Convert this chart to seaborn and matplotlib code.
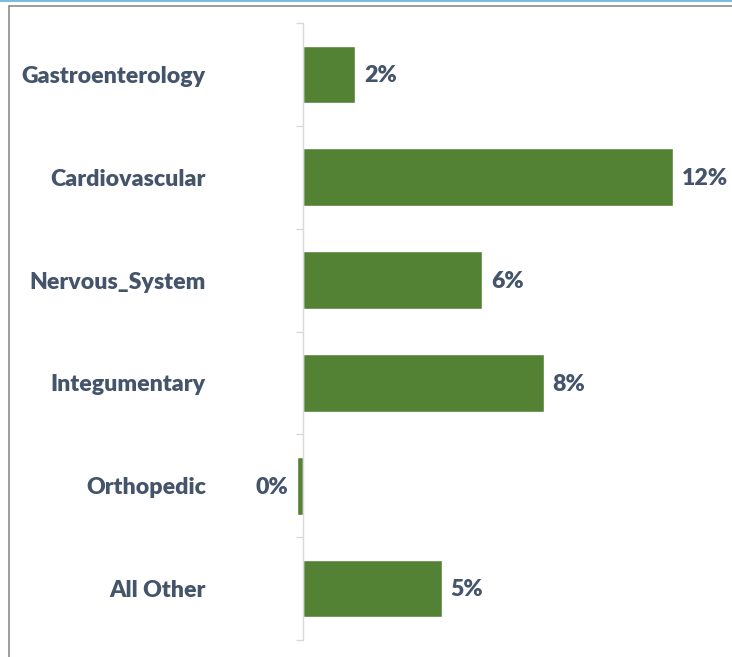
import matplotlib
matplotlib.use("Agg")
import matplotlib.pyplot as plt
import seaborn as sns
import pandas as pd
from matplotlib.lines import Line2D

categories = ["Gastroenterology", "Cardiovascular", "Nervous_System",
              "Integumentary", "Orthopedic", "All Other"]
values = [1.7, 12.0, 5.8, 7.8, -0.2, 4.5]
value_labels = ["2%", "12%", "6%", "8%", "0%", "5%"]

df = pd.DataFrame({"category": categories, "value": values})

sns.set_theme(style="white")
plt.rcParams["font.family"] = ["Lato", "DejaVu Sans"]

W, H = 732, 657
fig = plt.figure(figsize=(W / 100, H / 100), dpi=100)
x_left_px, x_right_px, zero_px = 285, 725, 303
scale = 370 / 12.0
ax = fig.add_axes([x_left_px / W, (H - 640) / H, (x_right_px - x_left_px) / W, 617 / H])

text_color = "#44546A"
bar_color = "#548235"
fs = 16.7
fw = "heavy"

sns.barplot(data=df, x="value", y="category", orient="h", color=bar_color,
            saturation=1, width=0.56, ax=ax)

ax.set_xlim((x_left_px - zero_px) / scale, (x_right_px - zero_px) / scale)
ax.set_ylim(5.5, -0.5)
ax.set_xlabel("")
ax.set_ylabel("")
ax.set_xticks([])

for s in ["top", "right", "bottom"]:
    ax.spines[s].set_visible(False)
ax.spines["left"].set_position(("data", 0))
ax.spines["left"].set_color("#D9D9D9")
ax.spines["left"].set_linewidth(1.0)

ax.set_yticks(range(len(categories)))
ax.set_yticklabels(categories, fontsize=fs, fontweight=fw, color=text_color)
ax.tick_params(axis="y", which="major", length=0, pad=70)
ax.set_yticks([i - 0.5 for i in range(len(categories) + 1)], minor=True)
ax.tick_params(axis="y", which="minor", length=5, color="#D9D9D9", width=1.0, left=True)

for i, (v, lab) in enumerate(zip(values, value_labels)):
    if v >= 0:
        ax.annotate(lab, (v, i), xytext=(6.5, -1), textcoords="offset points",
                    ha="left", va="center", fontsize=fs, fontweight=fw, color=text_color)
    else:
        ax.annotate(lab, (v, i), xytext=(-6.5, -1), textcoords="offset points",
                    ha="right", va="center", fontsize=fs, fontweight=fw, color=text_color)

# frame decoration
fig.add_artist(Line2D([0, 1], [1 - 0.8 / H, 1 - 0.8 / H], transform=fig.transFigure,
                      color="#7FBCDB", linewidth=1.5))
fig.add_artist(Line2D([8.5 / W, 1], [1 - 5.5 / H, 1 - 5.5 / H], transform=fig.transFigure,
                      color="#8C8C8C", linewidth=1.2))
fig.add_artist(Line2D([8.5 / W, 8.5 / W], [0, 1 - 5.5 / H], transform=fig.transFigure,
                      color="#8C8C8C", linewidth=1.2))

fig.savefig("out.png", dpi=100, facecolor="white")
